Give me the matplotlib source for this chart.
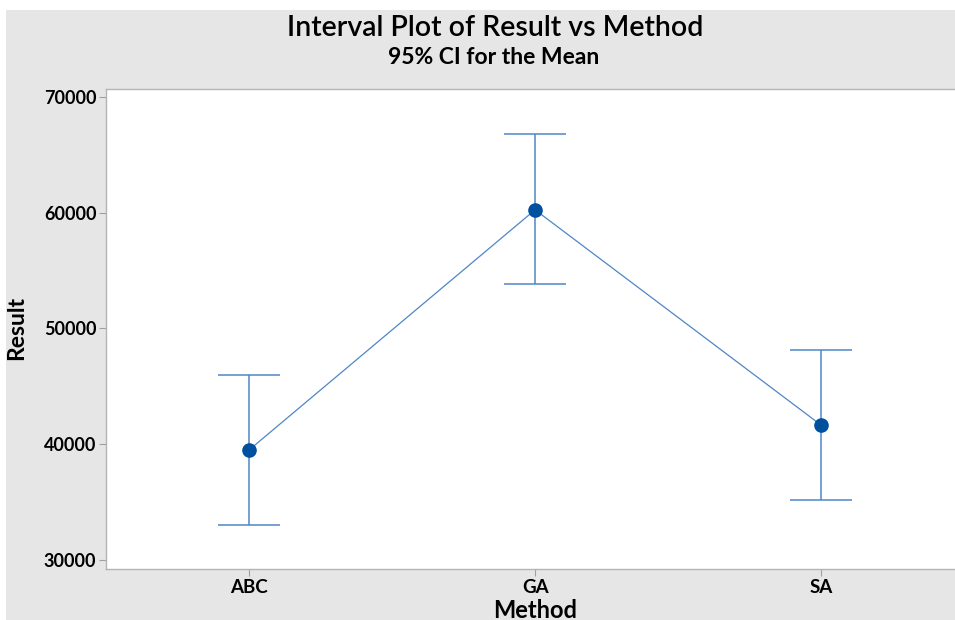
import matplotlib
matplotlib.use("Agg")
import matplotlib.pyplot as plt
from matplotlib.patches import Rectangle

methods = ["ABC", "GA", "SA"]
means = [39500, 60250, 41650]
lower = [33000, 53800, 35150]
upper = [45950, 66800, 48150]
yticks = [30000, 40000, 50000, 60000, 70000]

plt.rcParams['font.family'] = ['Lato', 'DejaVu Sans']

W, H = 955, 620
fig = plt.figure(figsize=(W / 100, H / 100), dpi=100, facecolor="white")
bg = Rectangle((6 / W, 0), 1 - 6 / W, (H - 10) / H, transform=fig.transFigure,
               facecolor="#e6e6e6", edgecolor="none", zorder=-10)
fig.patches.append(bg)

left, top, bottom = 106, 89, 569
ax = fig.add_axes([left / W, (H - bottom) / H, (W - left + 2) / W, (bottom - top) / H])
ax.set_zorder(5)
ax.set_facecolor("white")

x = list(range(len(methods)))
err = [[m - l for m, l in zip(means, lower)], [u - m for m, u in zip(means, upper)]]
ax.errorbar(x, means, yerr=err, fmt="none", ecolor="#4f86c6", elinewidth=1.1,
            capsize=22.5, capthick=1.1, zorder=2)
ax.plot(x, means, color="#4f86c6", linewidth=0.9, zorder=2)
ax.plot(x, means, "o", color="#0050a0", markersize=9.5, zorder=3)

ax.set_xlim(-0.5, 2.475)
ax.set_ylim(29220, 70690)
ax.set_xticks(x)
ax.set_xticklabels(methods, fontsize=13.5, fontweight="bold")
ax.set_yticks(yticks)
ax.set_yticklabels([str(v) for v in yticks], fontsize=13, fontweight="bold")
ax.tick_params(axis="both", direction="out", length=5, width=0.8, color="#a0a0a0", pad=2)
for s in ax.spines.values():
    s.set_color("#b4b4b4")
    s.set_linewidth(1.0)

fig.text(17 / W, 1 - 328 / H, "Result", rotation=90, fontsize=16.5, fontweight="bold",
         ha="center", va="center")
fig.text(535 / W, 1 - 611 / H, "Method", fontsize=17, fontweight="bold", ha="center", va="center")

fig.text(495 / W, 1 - 28 / H, "Interval Plot of Result vs Method", fontsize=20.5,
         fontweight="semibold", ha="center", va="center")
fig.text(494 / W, 1 - 57 / H, "95% CI for the Mean", fontsize=16.5, fontweight="bold",
         ha="center", va="center")

fig.savefig("out.png", dpi=100, facecolor="white")
